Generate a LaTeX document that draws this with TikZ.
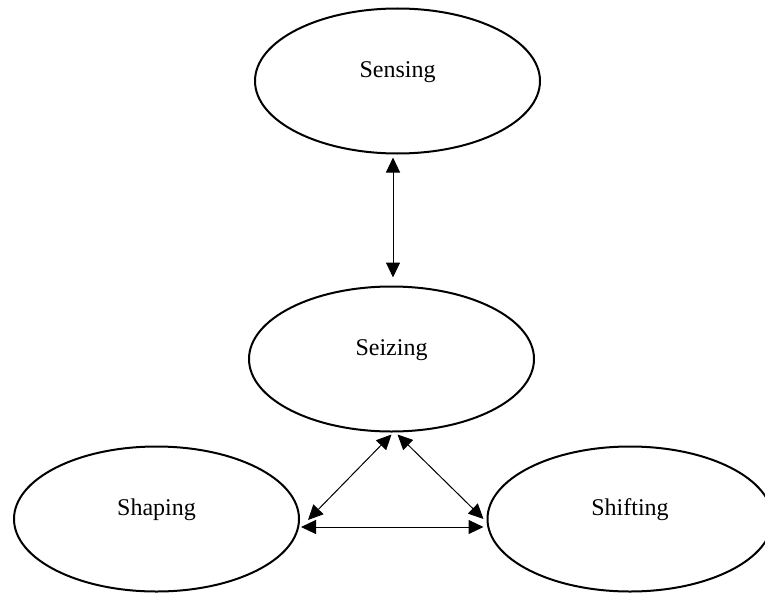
\documentclass[tikz,border=0pt]{standalone}
\usepackage{fontspec}
\setmainfont{Liberation Serif}
\usetikzlibrary{shapes.geometric,arrows.meta}

\begin{document}
\begin{tikzpicture}[x=1pt,y=-1pt,
  stage/.style={draw,line width=2pt,ellipse,inner sep=0pt,
    minimum width=285pt,minimum height=145pt},
  caption/.style={font=\fontsize{24}{28}\selectfont,inner sep=0pt},
  link/.style={line width=1pt,{Triangle[length=15pt,width=14pt]}-{Triangle[length=15pt,width=14pt]}}]
  \useasboundingbox (0,0) rectangle (765,594);
  \clip (0,0) rectangle (765,594);

  % the four stages
  \node[stage] (sense) at (397.5,81) {};
  \node[stage] (seize) at (391.5,359) {};
  \node[stage] (shape) at (156.5,519) {};
  \node[stage] (shift) at (630,519) {};

  % stage names, set a little above each centre
  \node[caption] (tsense) at ([yshift=9pt]sense.center) {Sensing};
  \node[caption] (tseize) at ([yshift=9pt]seize.center) {Seizing};
  \node[caption] (tshape) at ([yshift=9pt]shape.center) {Shaping};
  \node[caption] (tshift) at ([yshift=9pt]shift.center) {Shifting};

  % two-way links between the stages
  \coordinate (a1) at ([xshift=-4.5pt,yshift=-3pt]sense.south);
  \draw[link] (a1) -- ([yshift=8pt]a1 |- seize.north);

  \coordinate (b1) at ([yshift=-2pt]seize.south);
  \coordinate (b2) at ([xshift=6pt,yshift=-2pt]seize.south);
  \coordinate (c1) at ([xshift=8pt,yshift=-1pt]shape.east);
  \coordinate (c2) at ([xshift=-3pt]shift.west);
  \draw[link] (b1) -- (c1);
  \draw[link] (b2) -- (c2);

  \coordinate (d1) at ([xshift=1pt,yshift=-8pt]shape.east);
  \coordinate (d2) at ([xshift=-3pt,yshift=-8pt]shift.west);
  \draw[link] (d1) -- (d2);
\end{tikzpicture}
\end{document}
